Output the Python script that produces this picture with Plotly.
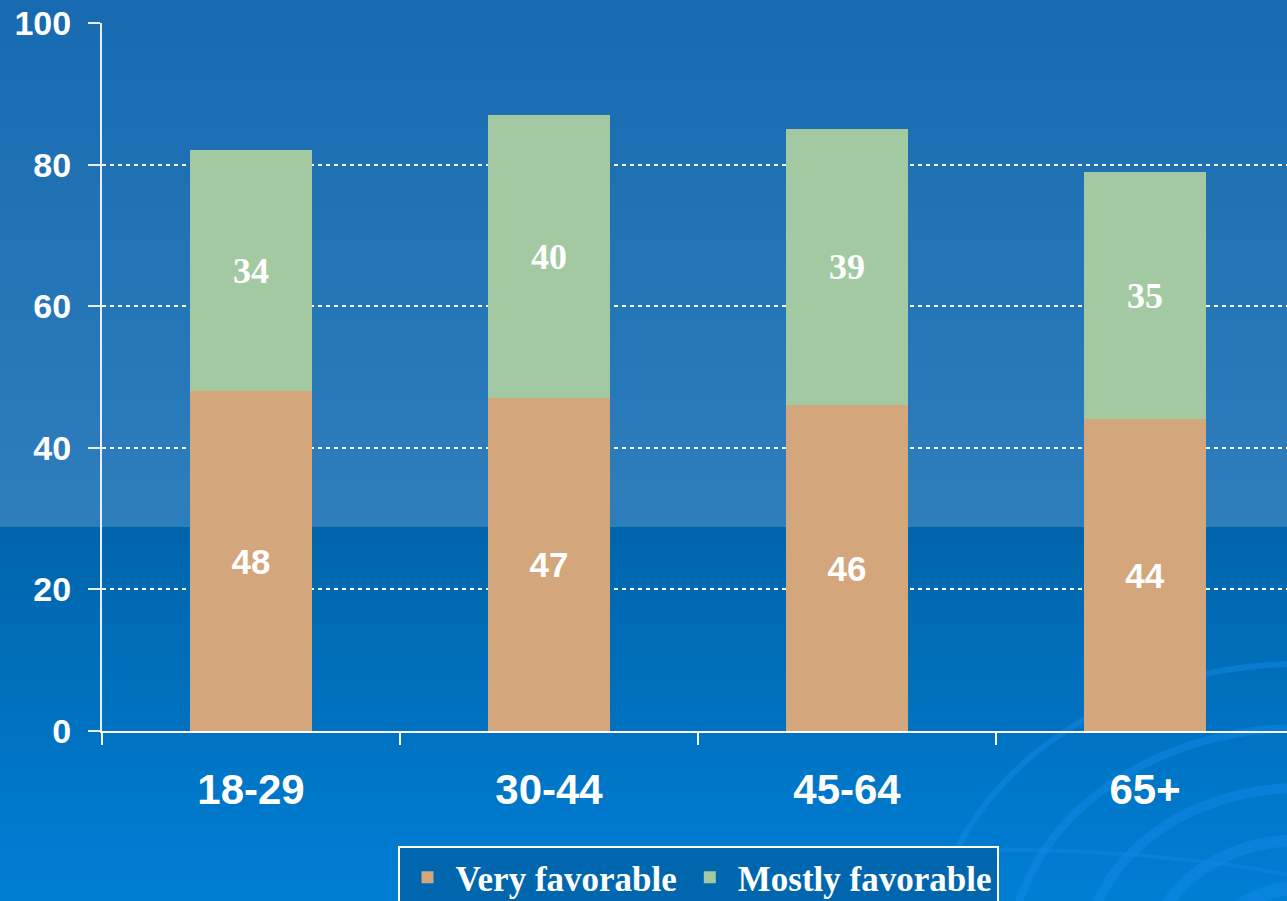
import plotly.graph_objects as go

# ---- data ----
categories = ["18-29", "30-44", "45-64", "65+"]
very_favorable = [48, 47, 46, 44]
mostly_favorable = [34, 40, 39, 35]
y_ticks = [0, 20, 40, 60, 80, 100]
series_names = ["Very favorable", "Mostly favorable"]

W, H = 1287, 901
L, R, T, B = 102, 0, 23, 170
PW, PH = W - L - R, H - T - B


def px_x(p):
    return (p - L) / PW


def px_y(p):
    return (H - B - p) / PH


def lerp(c1, c2, t):
    return "rgb(%d,%d,%d)" % tuple(round(a + (b - a) * t) for a, b in zip(c1, c2))


shapes = []
# upper lighter band gradient
top_c1, top_c2 = (24, 107, 177), (46, 126, 188)
n = 20
y_a, y_b = 0, 527
for i in range(n):
    p0 = y_a + (y_b - y_a) * i / n
    p1 = y_a + (y_b - y_a) * (i + 1) / n + 1
    shapes.append(dict(type="rect", xref="paper", yref="paper", layer="below",
                       x0=px_x(0), x1=px_x(W), y0=px_y(p1), y1=px_y(p0),
                       fillcolor=lerp(top_c1, top_c2, i / (n - 1)), line_width=0))
# lower darker band gradient
bot_c1, bot_c2 = (0, 101, 172), (0, 126, 212)
y_a, y_b = 527, H
for i in range(n):
    p0 = y_a + (y_b - y_a) * i / n
    p1 = y_a + (y_b - y_a) * (i + 1) / n + 1
    shapes.append(dict(type="rect", xref="paper", yref="paper", layer="below",
                       x0=px_x(0), x1=px_x(W), y0=px_y(p1), y1=px_y(p0),
                       fillcolor=lerp(bot_c1, bot_c2, i / (n - 1)), line_width=0))
# decorative swirls at bottom right
cx, cy = 1300, 960
for r, w in [(90, 14), (150, 12), (215, 10), (290, 8), (370, 6)]:
    shapes.append(dict(type="circle", xref="paper", yref="paper", layer="below",
                       x0=px_x(cx - r), x1=px_x(cx + r), y0=px_y(cy + r * 0.8), y1=px_y(cy - r * 0.8),
                       line=dict(color="rgba(20,140,235,0.45)", width=w), fillcolor="rgba(0,0,0,0)"))
# long faint arc at the bottom
shapes.append(dict(type="circle", xref="paper", yref="paper", layer="below",
                   x0=px_x(300), x1=px_x(1700), y0=px_y(1400), y1=px_y(850),
                   line=dict(color="rgba(20,140,235,0.35)", width=4), fillcolor="rgba(0,0,0,0)"))

sans = "Liberation Sans, Arial, sans-serif"
serif = "Liberation Serif, Times New Roman, serif"

fig = go.Figure()
fig.add_trace(go.Bar(
    x=categories, y=very_favorable, name=series_names[0],
    marker=dict(color="#d3a67c", line=dict(width=0)),
    texttemplate="%{y}", textposition="inside", insidetextanchor="middle",
    textangle=0, constraintext="none",
    textfont=dict(family=sans, size=35, color="white", weight="bold"),
))
fig.add_trace(go.Bar(
    x=categories, y=mostly_favorable, name=series_names[1],
    marker=dict(color="#a2c9a2", line=dict(width=0)),
    texttemplate="%{y}", textposition="inside", insidetextanchor="middle",
    textangle=0, constraintext="none",
    textfont=dict(family=serif, size=36, color="white", weight="bold"),
))

fig.update_layout(
    width=W, height=H,
    margin=dict(l=L, r=R, t=T, b=B, autoexpand=False),
    barmode="stack", bargap=0.59,
    paper_bgcolor="#0070c0", plot_bgcolor="rgba(0,0,0,0)",
    shapes=shapes,
    showlegend=True,
    legend=dict(orientation="h", x=px_x(698), xanchor="center", y=px_y(846), yanchor="top",
                font=dict(family=serif, size=35, color="white", weight="bold"),
                bgcolor="#0067af", bordercolor="white", borderwidth=2,
                itemwidth=46, traceorder="normal", itemclick=False),
    xaxis=dict(type="category", range=[-0.5, -0.5 + PW / 298.0],
               tickson="boundaries", ticks="outside", ticklen=12, tickwidth=2, tickcolor="white",
               showline=True, linecolor="white", linewidth=2, showgrid=False,
               tickfont=dict(family=sans, size=42, color="white", weight="bold"),
               ticklabelstandoff=21),
    yaxis=dict(range=[0, 100], tickvals=y_ticks, ticks="outside", ticklen=12, tickwidth=2,
               tickcolor="#e8eef5", showline=True, linecolor="#e8eef5", linewidth=2,
               showgrid=True, gridcolor="white", gridwidth=1.5, griddash="4px,4px",
               zeroline=False,
               tickfont=dict(family=sans, size=34, color="white", weight="bold"),
               ticklabelstandoff=10),
)

fig.write_html("out.html", config={"displayModeBar": False},
               post_script="document.body.style.margin='0';document.body.style.overflow='hidden';")
